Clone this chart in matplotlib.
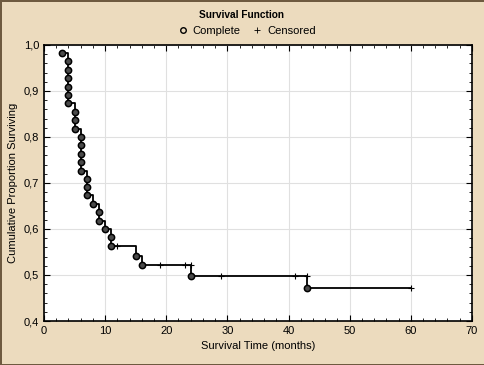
import matplotlib
matplotlib.use('Agg')
import matplotlib.pyplot as plt
from matplotlib.ticker import MultipleLocator, FuncFormatter
from matplotlib.lines import Line2D

plt.rcParams['font.family'] = ['Liberation Sans', 'DejaVu Sans']

# Curva de supervivencia (Kaplan-Meier)
step_t = [3, 4, 5, 6, 7, 8, 9, 10, 11, 15, 16, 24, 43, 60]
step_s = [0.982, 0.873, 0.818, 0.727, 0.673, 0.655, 0.618, 0.600, 0.564,
          0.542, 0.521, 0.498, 0.471, 0.471]

# Eventos completos (fallecimientos)
complete_t = [3, 4, 4, 4, 4, 4, 4, 5, 5, 5, 6, 6, 6, 6, 6, 7, 7, 7, 8, 9, 9,
              10, 11, 11, 15, 16, 24, 43]
complete_s = [0.982, 0.964, 0.945, 0.927, 0.909, 0.891, 0.873, 0.855, 0.836,
              0.818, 0.800, 0.782, 0.764, 0.745, 0.727, 0.709, 0.691, 0.673,
              0.655, 0.636, 0.618, 0.600, 0.582, 0.564, 0.542, 0.521, 0.498,
              0.471]

# Observaciones censuradas
censored_t = [12, 19, 23, 24, 29, 41, 43, 60]
censored_s = [0.564, 0.521, 0.521, 0.521, 0.498, 0.498, 0.498, 0.471]

bg = '#ECDBBE'
fig = plt.figure(figsize=(4.85, 3.65), dpi=100, facecolor=bg)
fig.patch.set_edgecolor('#6E5A40')
fig.patch.set_linewidth(2)
ax = fig.add_axes([0.0907, 0.1205, 0.8823, 0.7565])

ax.step(step_t, step_s, where='post', color='black', lw=1.3, zorder=3)
ax.plot(complete_t, complete_s, 'o', ms=4.5, mfc='#4a4a4a', mec='black',
        mew=1.1, zorder=4)
ax.plot(censored_t, censored_s, '+', ms=5, color='black', mew=0.8, zorder=4)

ax.set_xlim(0, 70)
ax.set_ylim(0.4, 1.0)
ax.xaxis.set_major_locator(MultipleLocator(10))
ax.xaxis.set_minor_locator(MultipleLocator(2))
ax.yaxis.set_major_locator(MultipleLocator(0.1))
ax.yaxis.set_minor_locator(MultipleLocator(0.02))
ax.yaxis.set_major_formatter(FuncFormatter(lambda v, p: f'{v:.1f}'.replace('.', ',')))
ax.tick_params(which='both', direction='in', top=True, right=True,
               labelsize=8, color='black')
ax.tick_params(which='major', length=4)
ax.tick_params(which='minor', length=2)
ax.grid(True, which='major', color='#e0e0e0', lw=0.8)
for s in ax.spines.values():
    s.set_linewidth(1.2)

ax.set_xlabel('Survival Time (months)', fontsize=8)
ax.set_ylabel('Cumulative Proportion Surviving', fontsize=8)

fig.text(0.497, 0.958, 'Survival Function', ha='center', va='center',
         fontsize=7.3, fontweight='bold')

handles = [Line2D([], [], ls='none', marker='o', ms=4, mfc='none', mec='black', mew=1),
           Line2D([], [], ls='none', marker='+', ms=4, color='black', mew=0.6)]
fig.legend(handles, ['Complete', 'Censored'], loc='center', ncol=2,
           bbox_to_anchor=(0.507, 0.915), frameon=False, fontsize=8,
           handletextpad=0.3, columnspacing=0.9, handlelength=1.2)

plt.savefig('out.png', dpi=100, facecolor=bg, edgecolor=fig.patch.get_edgecolor())
